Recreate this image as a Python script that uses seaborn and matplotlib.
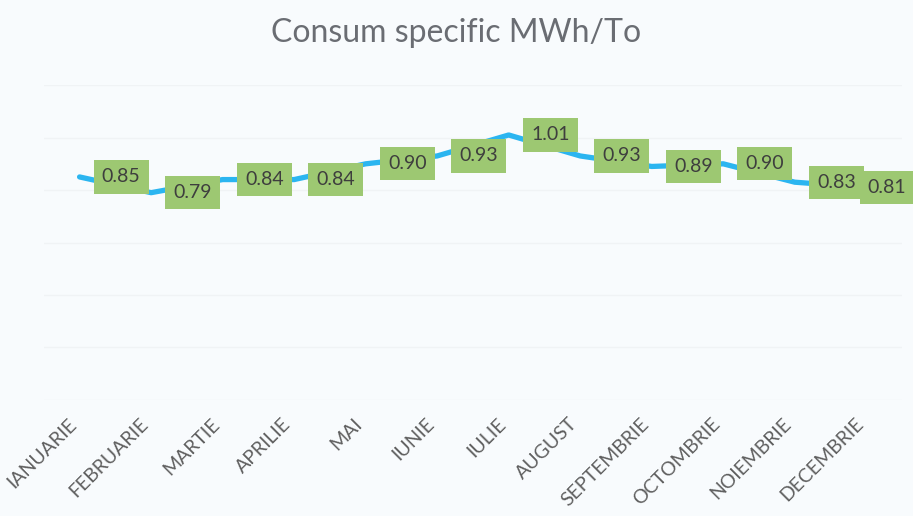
import matplotlib
matplotlib.use("Agg")
import matplotlib.pyplot as plt
import seaborn as sns
import pandas as pd

luni = ["IANUARIE", "FEBRUARIE", "MARTIE", "APRILIE", "MAI", "IUNIE",
        "IULIE", "AUGUST", "SEPTEMBRIE", "OCTOMBRIE", "NOIEMBRIE", "DECEMBRIE"]
consum = [0.85, 0.79, 0.84, 0.84, 0.90, 0.93, 1.01, 0.93, 0.89, 0.90, 0.83, 0.81]

df = pd.DataFrame({"luna": luni, "consum": consum})

sns.set_style("white")
plt.rcParams['font.family'] = ['Lato', 'DejaVu Sans']

fig = plt.figure(figsize=(9.13, 5.16), dpi=100, facecolor='#f8fbfd')
ax = fig.add_axes([0.048, 0.225, 0.94, 0.61])
ax.set_facecolor('#f8fbfd')

sns.lineplot(data=df, x="luna", y="consum", sort=False, ax=ax,
             color='#2bb5f0', linewidth=3.8, solid_capstyle='round')

# etichete de date la dreapta punctului; ultima mutata ca sa intre in imagine
for i, v in enumerate(consum):
    dx = 30 if i < len(consum) - 1 else 15
    ax.annotate(f"{v:.2f}", (i, v), xytext=(dx, 0), textcoords='offset points',
                ha='center', va='center', fontsize=14, color='#3e3e3e',
                bbox=dict(boxstyle='square,pad=0.42', fc='#9dc872', ec='none'),
                annotation_clip=False)

ax.set_xlim(-0.5, 11.5)
ax.set_ylim(0, 1.2)
ax.set_yticks([0, 0.2, 0.4, 0.6, 0.8, 1.0, 1.2])
ax.yaxis.grid(True, color='#f0f3f5', linewidth=1)
ax.set_yticklabels([])
ax.tick_params(axis='y', length=0)
ax.tick_params(axis='x', length=0, pad=11, labelsize=14, labelcolor='#5f5f5f')
plt.setp(ax.get_xticklabels(), rotation=45, ha='right')
ax.set_xlabel("")
ax.set_ylabel("")
for s in ax.spines.values():
    s.set_visible(False)

fig.text(0.5, 0.937, "Consum specific MWh/To", ha='center', va='center',
         fontsize=23, color='#6a6d73')

fig.savefig("out.png", dpi=100, facecolor=fig.get_facecolor())
